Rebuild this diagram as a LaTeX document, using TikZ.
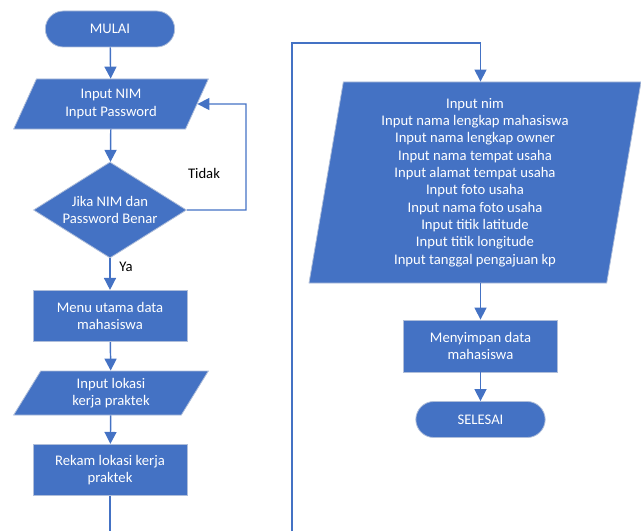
\documentclass[tikz,border=0pt]{standalone}
\usepackage{fontspec}
\setmainfont{Carlito}
\usetikzlibrary{shapes.geometric,arrows.meta}
\definecolor{fcblue}{RGB}{68,114,196}
\definecolor{fcedge}{RGB}{175,190,218}
\tikzset{
  base/.style={fill=fcblue, draw=fcedge, line width=0.6pt, text=white, align=center,
    font=\fontsize{11}{13}\selectfont, inner sep=0pt},
  term/.style={base, rectangle, rounded corners=13.5pt, minimum width=97pt, minimum height=27pt},
  proc/.style={base, rectangle, minimum width=115.5pt, minimum height=38.5pt},
  io/.style={base, trapezium, trapezium stretches body},
  cond/.style={base, diamond, aspect=1.6, minimum width=114.75pt, minimum height=72pt},
  line/.style={draw=fcblue, line width=1.1pt},
  arr/.style={line, -{Triangle[width=9pt,length=9pt]}},
  lbl/.style={font=\fontsize{11}{13}\selectfont, inner sep=0pt}
}
\begin{document}
\begin{tikzpicture}[x=0.75pt,y=0.75pt,yscale=-1,xscale=1]
\useasboundingbox (0,0) rectangle (641,531);

%Shape: Terminator [id:start]
\node[term] (mulai) at (110,29) {MULAI};
%Shape: Parallelogram [id:login]
\node[io, trapezium left angle=52, trapezium right angle=128,
      minimum width=146pt, minimum height=37.5pt] (nim) at (111,104) {Input NIM\\Input Password};
%Shape: Diamond [id:cek]
\node[cond] (cek) at (110,210) {Jika NIM dan\\Password Benar};
%Shape: Rectangle [id:menu]
\node[proc] (menu) at (110,316) {Menu utama data\\mahasiswa};
%Shape: Parallelogram [id:lokasi]
\node[io, trapezium left angle=48, trapezium right angle=132,
      minimum width=146pt, minimum height=33pt] (lokasi) at (111,393) {Input lokasi\\kerja praktek};
%Shape: Rectangle [id:rekam]
\node[proc] (rekam) at (110,470) {Rekam lokasi kerja\\praktek};

%Shape: Parallelogram [id:data]
\node[io, trapezium left angle=78.5, trapezium right angle=101.5,
      minimum width=249pt, minimum height=150.75pt] (data) at (475,182.5)
  {Input nim\\Input nama lengkap mahasiswa\\Input nama lengkap owner\\Input nama tempat usaha\\
   Input alamat tempat usaha\\Input foto usaha\\Input nama foto usaha\\Input titik latitude\\
   Input titik longitude\\Input tanggal pengajuan kp};
%Shape: Rectangle [id:simpan]
\node[proc, minimum width=116pt, minimum height=39pt] (simpan) at (480.5,346) {Menyimpan data\\mahasiswa};
%Shape: Terminator [id:end]
\node[term] (selesai) at (480.5,419.5) {SELESAI};

% Free ends
\coordinate (cutA) at (110,531);
\coordinate (cutB) at (292,531);
\coordinate (topB) at (292,43);
\coordinate (back) at (246,104);

%Straight Lines
\draw[arr] (mulai) -- (nim);
\draw[arr] (nim) -- (cek);
\draw[arr] (cek) -- (menu);
\draw[arr] (menu) -- (lokasi);
\draw[arr] (lokasi) -- (rekam);
\draw[line] (rekam) -- (cutA);
\draw[arr] (cek.east) -| (back) -- (nim.east);
\draw[arr] (cutB) -- (topB) -| (data.north -| simpan.north);
\draw[arr] (data.south -| simpan.north) -- (simpan);
\draw[arr] (simpan) -- (selesai);

% Text Node
\node[lbl] (tidak) at (204,173) {Tidak};
% Text Node
\node[lbl] (ya) at (126,267) {Ya};

\end{tikzpicture}
\end{document}
